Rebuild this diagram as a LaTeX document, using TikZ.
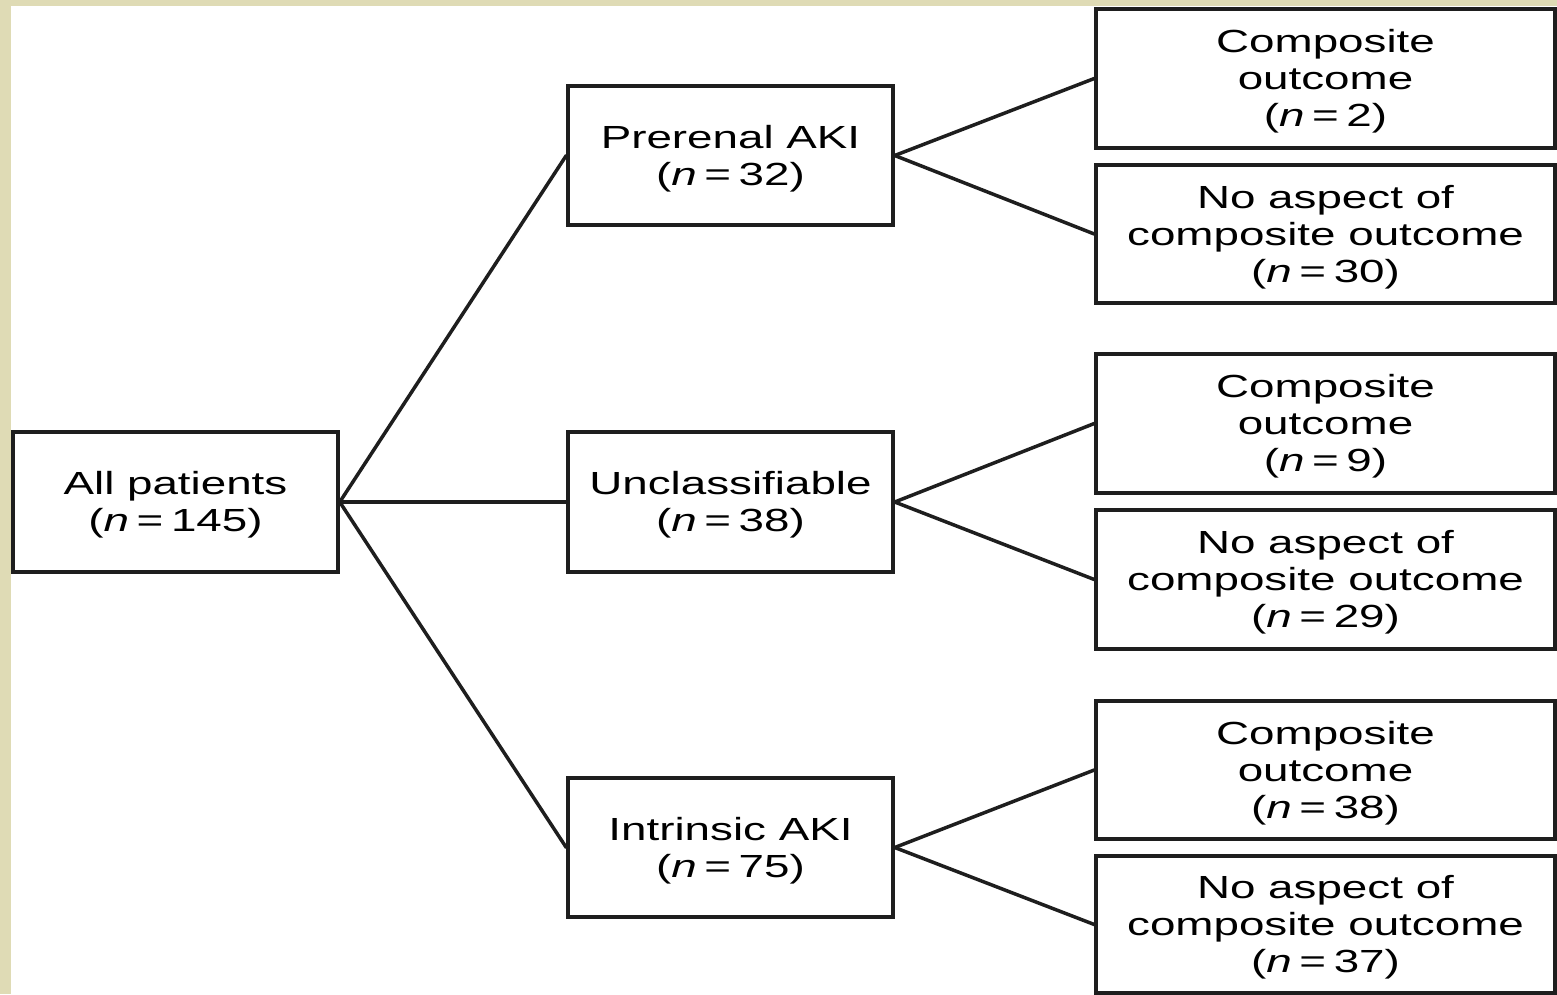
\documentclass[tikz,border=0pt]{standalone}
\usepackage{fontspec}
\setmainfont{Liberation Sans}
\definecolor{beige}{RGB}{223,219,181}
\definecolor{ink}{RGB}{30,30,30}
\newcommand\wtxt[1]{\raisebox{-4pt}[\height][\depth]{\scalebox{1.43}[1]{\begin{tabular}{@{}c@{}}#1\end{tabular}}}}
\newcommand\nn{\textit{n}\,=\,}
\begin{document}
\begin{tikzpicture}[x=1pt,y=-1pt,
  box/.style={draw=ink,line width=3.5pt,fill=white,rectangle,inner sep=0pt,
    font=\fontsize{32}{37}\selectfont,text=black},
  midbox/.style={box,minimum width=325pt,minimum height=139pt},
  rbox/.style={box,minimum width=459pt,minimum height=138pt},
  link/.style={draw=ink,line width=3.5pt,line cap=round}]
\useasboundingbox (0,0) rectangle (1557,994);
\fill[beige] (0,0) rectangle (1557,994);
\fill[white] (11,6) rectangle (1557,994);

\node[midbox,minimum height=140pt] (all) at (175.5,502) {\wtxt{All patients\\(\nn145)}};
\node[midbox] (pre) at (730.5,155.5) {\wtxt{Prerenal AKI\\(\nn32)}};
\node[midbox,minimum height=140pt] (unc) at (730.5,502) {\wtxt{Unclassifiable\\(\nn38)}};
\node[midbox] (intr) at (730.5,847.5) {\wtxt{Intrinsic AKI\\(\nn75)}};

\node[rbox,minimum height=139pt] (r1) at (1325.5,78.5) {\wtxt{Composite\\outcome\\(\nn2)}};
\node[rbox] (r2) at (1325.5,234) {\wtxt{No aspect of\\composite outcome\\(\nn30)}};
\node[rbox,minimum height=139pt] (r3) at (1325.5,423.5) {\wtxt{Composite\\outcome\\(\nn9)}};
\node[rbox,minimum height=139pt] (r4) at (1325.5,579.5) {\wtxt{No aspect of\\composite outcome\\(\nn29)}};
\node[rbox] (r5) at (1325.5,770) {\wtxt{Composite\\outcome\\(\nn38)}};
\node[rbox,minimum height=137pt] (r6) at (1325.5,924.5) {\wtxt{No aspect of\\composite outcome\\(\nn37)}};

\draw[link] (all.east) -- (pre.west);
\draw[link] (all.east) -- (unc.west);
\draw[link] (all.east) -- (intr.west);
\draw[link] (pre.east) -- (r1.west);
\draw[link] (pre.east) -- (r2.west);
\draw[link] (unc.east) -- (r3.west);
\draw[link] (unc.east) -- (r4.west);
\draw[link] (intr.east) -- (r5.west);
\draw[link] (intr.east) -- (r6.west);
\end{tikzpicture}
\end{document}
